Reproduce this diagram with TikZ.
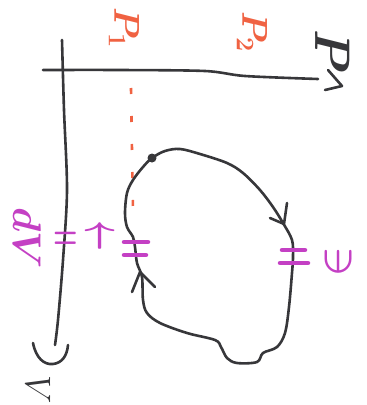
\RequirePackage{fix-cm}
\documentclass[tikz,border=0pt]{standalone}
\usetikzlibrary{arrows.meta}
\definecolor{ink}{RGB}{55,55,58}
\definecolor{orng}{RGB}{240,98,66}
\definecolor{pnk}{RGB}{196,64,196}
\begin{document}
\begin{tikzpicture}[x=1pt,y=-1pt,
  stroke/.style={draw=ink,line width=2.6pt,line cap=round,line join=round},
  tick/.style={draw=pnk,line width=4.5pt,line cap=round},
  olbl/.style={text=orng,inner sep=0pt},
  plbl/.style={text=pnk,inner sep=0pt},
  klbl/.style={text=ink,inner sep=0pt}]
\useasboundingbox (0,0) rectangle (367,405);
% axes
\draw[stroke] plot[smooth] coordinates {(62,40) (64,110) (67,190) (63,260) (58,320) (55,345)};
\draw[stroke] plot[smooth] coordinates {(43,70) (120,70) (205,71) (245,76) (318,79)};
% axis arrowheads
\draw[stroke] (33,343) .. controls (36,358) and (44,365) .. (53,364) .. controls (62,363) and (67,356) .. (68,345);
\draw[stroke] (328,70) -- (342,86) -- (325,90);
% axis labels
\node[klbl,rotate=-90,font=\fontsize{50}{50}\selectfont\boldmath] (plab) at (333,52) {$P$};
\node[klbl,rotate=-90,font=\fontsize{36}{36}\selectfont] (vlab) at (38,390) {$V$};
% orange labels and dashed guide
\node[olbl,rotate=-90,font=\fontsize{36}{36}\selectfont\boldmath] (p1) at (124,28) {$P_1$};
\node[olbl,rotate=-90,font=\fontsize{36}{36}\selectfont\boldmath] (p2) at (252,32) {$P_2$};
\coordinate (dtop) at (131,88);
\coordinate (dbot) at (133,212);
\draw[draw=orng,line width=2.6pt,dash pattern=on 6pt off 22pt] (dtop) -- (dbot);
% cycle
\draw[stroke] plot[smooth cycle,tension=0.55] coordinates {
 (152,158) (165,151) (180,149) (200,154) (227,163) (243,173) (260,190) (273,207)
 (283,223) (292,240) (293,257) (292,273) (289,307) (285,333) (277,347) (263,353)
 (257,362) (237,363) (227,358) (221,347) (215,340) (187,333) (160,323) (147,313)
 (143,300) (142,277) (137,263) (135,247) (133,237) (127,227) (125,213) (127,193)
 (133,180) (143,167)};
\fill[ink] (152,158) circle (4.5pt);
% cycle arrowheads
\draw[stroke] (270,218) -- (284,224) -- (287,203);
\draw[stroke] (132,292) -- (140,272) -- (155,287);
% pink marks on the cycle
\draw[tick] (124,242) -- (148,242);
\draw[tick] (124,255) -- (146,255);
\draw[tick] (282,250) -- (305,250);
\draw[tick] (280,263) -- (308,263);
% pink labels
\node[plbl,rotate=-90,font=\fontsize{40}{40}\selectfont\boldmath] (dv) at (27,238) {$dV$};
\node[plbl,font=\fontsize{28}{28}\selectfont\bfseries] (eq) at (66,241) {\scalebox{1}[1.6]{=}};
\node[plbl,font=\fontsize{30}{30}\selectfont\boldmath] (up) at (100,236) {\scalebox{1.8}[1]{$\uparrow$}};
\node[plbl,rotate=-90,font=\fontsize{40}{40}\selectfont\boldmath] (zr) at (338,262) {$\ni$};
\end{tikzpicture}
\end{document}
